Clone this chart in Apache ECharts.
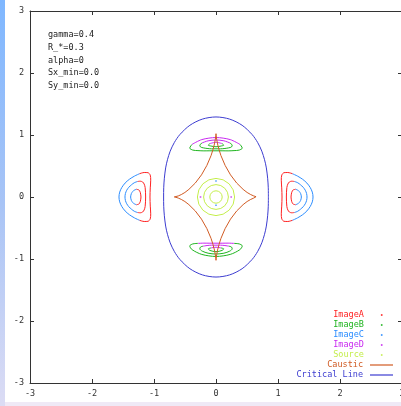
<!DOCTYPE html>
<html><head><meta charset="utf-8">
<script src="https://cdn.jsdelivr.net/npm/echarts@6/dist/echarts.min.js"></script>
<style>
html,body{margin:0;padding:0;width:401px;height:406px;overflow:hidden;background:#efe9f6;}
#strip{position:absolute;left:0;top:0;width:5px;height:406px;background:linear-gradient(#7fb7ff 0%,#a8c4f6 50%,#dcdcf4 100%);}
#paper{position:absolute;left:5px;top:0;width:396px;height:402px;background:#ffffff;}
#chart{position:absolute;left:0;top:0;width:401px;height:406px;}
</style></head><body>
<div id="strip"></div><div id="paper"></div><div id="chart"></div>
<script>
// ---------- text ----------
const paramLabels = ['gamma=0.4', 'R_*=0.3', 'alpha=0', 'Sx_min=0.0', 'Sy_min=0.0'];
const legendDotNames = ['ImageA', 'ImageB', 'ImageC', 'ImageD', 'Source'];
const legendLineNames = ['Caustic', 'Critical Line'];
const axisMin = -3, axisMax = 3, axisStep = 1;

// ---------- Image A (red): inner sides of the left/right images ----------
const imgA_right_r3 = [[1.235,0.375],[1.158,0.395],[1.097,0.392],[1.061,0.354],[1.053,0.271],[1.060,0.147],[1.065,0],[1.060,-0.147],[1.053,-0.271],[1.061,-0.354],[1.097,-0.392],[1.158,-0.395],[1.235,-0.375]];
const imgA_right_r2 = [[1.267,0.250],[1.222,0.255],[1.183,0.242],[1.159,0.209],[1.143,0.154],[1.135,0],[1.143,-0.154],[1.159,-0.209],[1.183,-0.242],[1.222,-0.255],[1.267,-0.250]];
const imgA_right_r1 = [[1.285,0.125],[1.244,0.114],[1.230,0.095],[1.220,0.069],[1.210,0],[1.220,-0.069],[1.230,-0.095],[1.244,-0.114],[1.285,-0.125]];
const imgA_left_r3 = [[-1.235,0.375],[-1.158,0.395],[-1.097,0.392],[-1.061,0.354],[-1.053,0.271],[-1.060,0.147],[-1.065,0],[-1.060,-0.147],[-1.053,-0.271],[-1.061,-0.354],[-1.097,-0.392],[-1.158,-0.395],[-1.235,-0.375]];
const imgA_left_r2 = [[-1.267,0.250],[-1.222,0.255],[-1.183,0.242],[-1.159,0.209],[-1.143,0.154],[-1.135,0],[-1.143,-0.154],[-1.159,-0.209],[-1.183,-0.242],[-1.222,-0.255],[-1.267,-0.250]];
const imgA_left_r1 = [[-1.285,0.125],[-1.244,0.114],[-1.230,0.095],[-1.220,0.069],[-1.210,0],[-1.220,-0.069],[-1.230,-0.095],[-1.244,-0.114],[-1.285,-0.125]];

// ---------- Image C (blue): outer sides of the left/right images ----------
const imgC_right_r3 = [[1.235,-0.375],[1.315,-0.337],[1.397,-0.286],[1.466,-0.225],[1.519,-0.154],[1.553,-0.079],[1.565,0],[1.553,0.079],[1.519,0.154],[1.466,0.225],[1.397,0.286],[1.315,0.337],[1.235,0.375]];
const imgC_right_r2 = [[1.267,-0.250],[1.318,-0.230],[1.362,-0.198],[1.406,-0.157],[1.440,-0.109],[1.461,-0.056],[1.468,0],[1.461,0.056],[1.440,0.109],[1.406,0.157],[1.362,0.198],[1.318,0.230],[1.267,0.250]];
const imgC_right_r1 = [[1.285,-0.125],[1.330,-0.103],[1.347,-0.083],[1.364,-0.058],[1.377,0],[1.364,0.058],[1.347,0.083],[1.330,0.103],[1.285,0.125]];
const imgC_left_r3 = [[-1.235,-0.375],[-1.315,-0.337],[-1.397,-0.286],[-1.466,-0.225],[-1.519,-0.154],[-1.553,-0.079],[-1.565,0],[-1.553,0.079],[-1.519,0.154],[-1.466,0.225],[-1.397,0.286],[-1.315,0.337],[-1.235,0.375]];
const imgC_left_r2 = [[-1.267,-0.250],[-1.318,-0.230],[-1.362,-0.198],[-1.406,-0.157],[-1.440,-0.109],[-1.461,-0.056],[-1.468,0],[-1.461,0.056],[-1.440,0.109],[-1.406,0.157],[-1.362,0.198],[-1.318,0.230],[-1.267,0.250]];
const imgC_left_r1 = [[-1.285,-0.125],[-1.330,-0.103],[-1.347,-0.083],[-1.364,-0.058],[-1.377,0],[-1.364,0.058],[-1.347,0.083],[-1.330,0.103],[-1.285,0.125]];
const imgC_dots = [[0,0.258],[0,-0.134]];

// ---------- Image B (green): top / bottom images ----------
const imgB_top_r3 = [[0.386,0.849],[0.424,0.789],[0.375,0.757],[0.291,0.748],[0.195,0.744],[0.098,0.745],[0,0.745],[-0.098,0.745],[-0.195,0.744],[-0.291,0.748],[-0.375,0.757],[-0.424,0.789],[-0.386,0.849]];
const imgB_top_r2 = [[0.222,0.873],[0.261,0.836],[0.250,0.807],[0.206,0.793],[0.144,0.783],[0.074,0.777],[0,0.777],[-0.074,0.777],[-0.144,0.783],[-0.206,0.793],[-0.250,0.807],[-0.261,0.836],[-0.222,0.873]];
const imgB_top_r1 = [[0.098,0.862],[0.125,0.836],[0.080,0.822],[0,0.810],[-0.080,0.822],[-0.125,0.836],[-0.098,0.862]];
const imgB_bot_r3 = [[-0.291,-0.748],[-0.375,-0.757],[-0.424,-0.789],[-0.386,-0.849],[-0.229,-0.926],[0,-0.959],[0.229,-0.926],[0.386,-0.849],[0.424,-0.789],[0.375,-0.757],[0.291,-0.748]];
const imgB_bot_r2 = [[-0.206,-0.793],[-0.250,-0.807],[-0.261,-0.836],[-0.222,-0.873],[-0.128,-0.906],[0,-0.920],[0.128,-0.906],[0.222,-0.873],[0.261,-0.836],[0.250,-0.807],[0.206,-0.793]];
const imgB_bot_r1 = [[-0.080,-0.822],[-0.125,-0.836],[-0.098,-0.862],[0,-0.882],[0.098,-0.862],[0.125,-0.836],[0.080,-0.822]];

// ---------- Image D (magenta): top / bottom images ----------
const imgD_top_r3 = [[-0.386,0.849],[-0.229,0.926],[0,0.959],[0.229,0.926],[0.386,0.849]];
const imgD_top_r2 = [[-0.222,0.873],[-0.128,0.906],[0,0.920],[0.128,0.906],[0.222,0.873]];
const imgD_top_r1 = [[-0.098,0.862],[0,0.882],[0.098,0.862]];
const imgD_bot_r3 = [[0.291,-0.748],[0.195,-0.744],[0.098,-0.745],[0,-0.745],[-0.098,-0.745],[-0.195,-0.744],[-0.291,-0.748]];
const imgD_bot_r2 = [[0.206,-0.793],[0.144,-0.783],[0.074,-0.777],[0,-0.777],[-0.074,-0.777],[-0.144,-0.783],[-0.206,-0.793]];
const imgD_bot_r1 = [[0.080,-0.822],[0,-0.810],[-0.080,-0.822]];
const imgD_dots = [[-0.250,0],[0.245,0]];

// ---------- Source circles ----------
const source_r3 = [[0.3,0],[0.2772,0.1148],[0.2121,0.2121],[0.1148,0.2772],[0,0.3],[-0.1148,0.2772],[-0.2121,0.2121],[-0.2772,0.1148],[-0.3,0],[-0.2772,-0.1148],[-0.2121,-0.2121],[-0.1148,-0.2772],[0,-0.3],[0.1148,-0.2772],[0.2121,-0.2121],[0.2772,-0.1148],[0.3,0]];
const source_r2 = [[0.2,0],[0.1848,0.0765],[0.1414,0.1414],[0.0765,0.1848],[0,0.2],[-0.0765,0.1848],[-0.1414,0.1414],[-0.1848,0.0765],[-0.2,0],[-0.1848,-0.0765],[-0.1414,-0.1414],[-0.0765,-0.1848],[0,-0.2],[0.0765,-0.1848],[0.1414,-0.1414],[0.1848,-0.0765],[0.2,0]];
const source_r1 = [[0.1,0],[0.0924,0.0383],[0.0707,0.0707],[0.0383,0.0924],[0,0.1],[-0.0383,0.0924],[-0.0707,0.0707],[-0.0924,0.0383],[-0.1,0],[-0.0924,-0.0383],[-0.0707,-0.0707],[-0.0383,-0.0924],[0,-0.1],[0.0383,-0.0924],[0.0707,-0.0707],[0.0924,-0.0383],[0.1,0]];

// ---------- Caustic ----------
const caustic = [[-0.676,0],[-0.668,0.001],[-0.646,0.005],[-0.609,0.017],[-0.560,0.039],[-0.502,0.073],[-0.437,0.123],[-0.334,0.225],[-0.234,0.357],[-0.147,0.510],[-0.080,0.667],[-0.048,0.767],[-0.025,0.856],[-0.011,0.930],[-0.003,0.986],[0,1.021],[0,1.033],
[0,1.021],[0.003,0.986],[0.011,0.930],[0.025,0.856],[0.048,0.767],[0.080,0.667],[0.147,0.510],[0.234,0.357],[0.334,0.225],[0.437,0.123],[0.502,0.073],[0.560,0.039],[0.609,0.017],[0.646,0.005],[0.668,0.001],[0.676,0],
[0.668,-0.001],[0.646,-0.005],[0.609,-0.017],[0.560,-0.039],[0.502,-0.073],[0.437,-0.123],[0.334,-0.225],[0.234,-0.357],[0.147,-0.510],[0.080,-0.667],[0.048,-0.767],[0.025,-0.856],[0.011,-0.930],[0.003,-0.986],[0,-1.021],[0,-1.033],
[0,-1.021],[-0.003,-0.986],[-0.011,-0.930],[-0.025,-0.856],[-0.048,-0.767],[-0.080,-0.667],[-0.147,-0.510],[-0.234,-0.357],[-0.334,-0.225],[-0.437,-0.123],[-0.502,-0.073],[-0.560,-0.039],[-0.609,-0.017],[-0.646,-0.005],[-0.668,-0.001],[-0.676,0]];

// ---------- Critical line ----------
const criticalLine = [[0.845,0],[0.843,0.149],[0.833,0.303],[0.812,0.469],[0.783,0.601],[0.739,0.739],[0.673,0.877],[0.582,1.008],[0.421,1.157],[0.221,1.256],[0,1.291],
[-0.221,1.256],[-0.421,1.157],[-0.582,1.008],[-0.673,0.877],[-0.739,0.739],[-0.783,0.601],[-0.812,0.469],[-0.833,0.303],[-0.843,0.149],[-0.845,0],
[-0.843,-0.149],[-0.833,-0.303],[-0.812,-0.469],[-0.783,-0.601],[-0.739,-0.739],[-0.673,-0.877],[-0.582,-1.008],[-0.421,-1.157],[-0.221,-1.256],[0,-1.291],
[0.221,-1.256],[0.421,-1.157],[0.582,-1.008],[0.673,-0.877],[0.739,-0.739],[0.783,-0.601],[0.812,-0.469],[0.833,-0.303],[0.843,-0.149],[0.845,0]];

// ---------- chart ----------
const FONT = "'DejaVu Sans Mono', 'Liberation Mono', monospace";
const colors = {
  'ImageA': '#ff2020', 'ImageB': '#1eb41e', 'ImageC': '#2a8cff', 'ImageD': '#c828f0',
  'Source': '#c4ee4c', 'Caustic': '#d05a22', 'Critical Line': '#3c3cd0'
};
function lineSeries(name, data, smooth) {
  return { name: name, type: 'line', data: data, symbol: 'none', showSymbol: false,
    smooth: smooth ? 0.3 : false, silent: true, animation: false,
    color: colors[name], itemStyle: { color: colors[name] },
    lineStyle: { color: colors[name], width: 1 } };
}
function dotSeries(name, data) {
  return { name: name, type: 'scatter', data: data, symbol: 'rect', symbolSize: 1.6,
    silent: true, animation: false, itemStyle: { color: colors[name] } };
}
const series = [];
[imgA_right_r3, imgA_right_r2, imgA_right_r1, imgA_left_r3, imgA_left_r2, imgA_left_r1].forEach(d => series.push(lineSeries('ImageA', d, true)));
[imgB_top_r3, imgB_top_r2, imgB_top_r1, imgB_bot_r3, imgB_bot_r2, imgB_bot_r1].forEach(d => series.push(lineSeries('ImageB', d, true)));
[imgC_right_r3, imgC_right_r2, imgC_right_r1, imgC_left_r3, imgC_left_r2, imgC_left_r1].forEach(d => series.push(lineSeries('ImageC', d, true)));
series.push(dotSeries('ImageC', imgC_dots));
[imgD_top_r3, imgD_top_r2, imgD_top_r1, imgD_bot_r3, imgD_bot_r2, imgD_bot_r1].forEach(d => series.push(lineSeries('ImageD', d, true)));
series.push(dotSeries('ImageD', imgD_dots));
[source_r3, source_r2, source_r1].forEach(d => series.push(lineSeries('Source', d, false)));
series.push(lineSeries('Caustic', caustic, false));
series.push(lineSeries('Critical Line', criticalLine, true));

function axis(pos, showLabel) {
  return { type: 'value', position: pos, min: axisMin, max: axisMax, interval: axisStep,
    axisLine: { show: true, onZero: false, lineStyle: { color: '#333', width: 1 } },
    axisTick: { show: true, inside: true, length: 4, lineStyle: { color: '#333', width: 1 } },
    splitLine: { show: false },
    axisLabel: { show: showLabel, color: '#333', fontFamily: FONT, fontSize: 8.5, margin: 6 } };
}
const legendCommon = { orient: 'vertical', align: 'right', icon: 'rect', itemGap: 0, padding: 0,
  selectedMode: false, itemStyle: { borderWidth: 0 } };

const chart = echarts.init(document.getElementById('chart'), null, { renderer: 'canvas' });
chart.setOption({
  backgroundColor: 'transparent',
  animation: false,
  grid: { left: 30, top: 11, width: 372, height: 372, show: false, containLabel: false, outerBoundsMode: 'none' },
  xAxis: [axis('bottom', true), axis('top', false)],
  yAxis: [axis('left', true), axis('right', false)],
  legend: [
    Object.assign({}, legendCommon, {
      data: legendDotNames.map(n => ({ name: n, textStyle: { color: colors[n] } })),
      right: 18.5, top: 310, itemWidth: 1.6, itemHeight: 1.6,
      textStyle: { fontFamily: FONT, fontSize: 8.5, lineHeight: 10, padding: [0, 12, 0, 0] }
    }),
    Object.assign({}, legendCommon, {
      data: legendLineNames.map(n => ({ name: n, textStyle: { color: colors[n] } })),
      right: 8, top: 360, itemWidth: 23, itemHeight: 1.2,
      textStyle: { fontFamily: FONT, fontSize: 8.5, lineHeight: 10, padding: [0, 2, 0, 0] }
    })
  ],
  graphic: paramLabels.map((t, i) => ({
    type: 'text', left: 48, top: 30.7 + i * 12.67, silent: true,
    style: { text: t, fill: '#222', font: '8.5px ' + FONT }
  })),
  series: series
});
</script></body></html>
